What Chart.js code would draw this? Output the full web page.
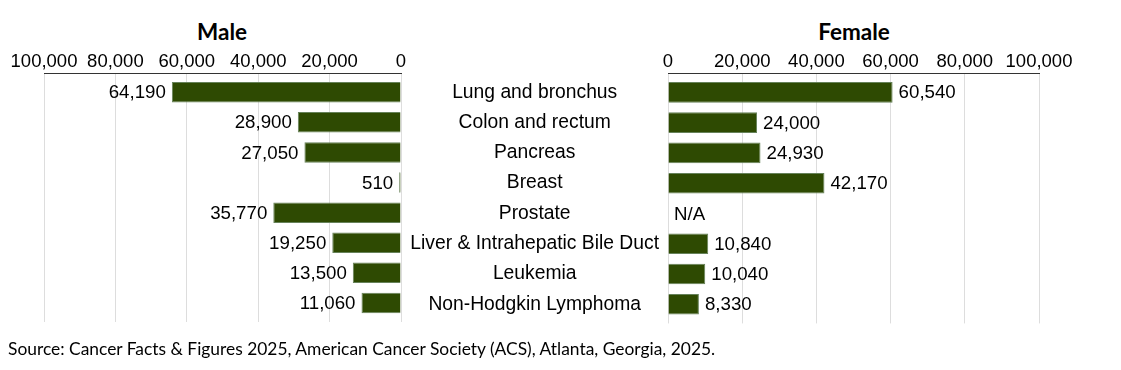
<!DOCTYPE html>
<html>
<head>
<meta charset="utf-8">
<script src="https://cdn.jsdelivr.net/npm/chart.js@4"></script>
<style>
  body { margin: 0; background: #fff; width: 1121px; height: 370px; position: relative; overflow: hidden; }
  .wrap { position: absolute; top: 0; }
  .title { position: absolute; top: 18px; font: bold 22.5px Lato, sans-serif; color: #000; transform: translateX(-50%); }
  #source { position: absolute; left: 8px; top: 338px; font: 17.4px Lato, sans-serif; color: #000; white-space: nowrap; }
</style>
</head>
<body>
<div class="title" style="left:222px">Male</div>
<div class="title" style="left:854px">Female</div>
<div class="wrap" style="left:0; width:440px; height:326px"><canvas id="maleChart"></canvas></div>
<div class="wrap" style="left:401px; width:720px; height:344px"><canvas id="femaleChart"></canvas></div>
<div id="source">Source: Cancer Facts &amp; Figures 2025, American Cancer Society (ACS), Atlanta, Georgia, 2025.</div>
<script>
const sites = ['Lung and bronchus', 'Colon and rectum', 'Pancreas', 'Breast', 'Prostate',
  'Liver & Intrahepatic Bile Duct', 'Leukemia', 'Non-Hodgkin Lymphoma'];
const maleDeaths = [64190, 28900, 27050, 510, 35770, 19250, 13500, 11060];
const femaleDeaths = [60540, 24000, 24930, 42170, null, 10840, 10040, 8330];
const axisMax = 100000;
const axisStep = 20000;

const barFill = '#2e4a02';
const barEdge = '#66825a';
const tickFont = { family: 'Liberation Sans', size: 18.5 };
const nameFont = { family: 'Liberation Sans', size: 19.3 };

// rows sit a little inside the grid lines, top and bottom
const rowInset = {
  id: 'rowInset',
  afterLayout(chart) {
    const s = chart.scales.y;
    s._startPixel += 4;
    s._endPixel -= 4;
    s._length -= 8;
  }
};

// writes the number next to the end of each bar
const valueLabels = {
  id: 'valueLabels',
  afterDatasetsDraw(chart) {
    const ctx = chart.ctx;
    const xScale = chart.scales.x;
    const reversed = xScale.options.reverse;
    const meta = chart.getDatasetMeta(0);
    const values = chart.data.datasets[0].data;
    ctx.save();
    ctx.font = '18.7px "Liberation Sans"';
    ctx.fillStyle = '#000';
    ctx.textBaseline = 'middle';
    meta.data.forEach(function (bar, i) {
      let v = values[i];
      let text = v === null ? 'N/A' : v.toLocaleString('en-US');
      let end = v === null ? xScale.getPixelForValue(0) : bar.x;
      if (reversed) {
        ctx.textAlign = 'right';
        ctx.fillText(text, end - 6, bar.y + 1);
      } else {
        ctx.textAlign = 'left';
        ctx.fillText(text, end + 6, bar.y + 1);
      }
    });
    ctx.restore();
  }
};

function makeChart(id, values, reversed, showNames) {
  let ctx = document.getElementById(id).getContext('2d');
  return new Chart(ctx, {
    type: 'bar',
    data: {
      labels: sites,
      datasets: [{
        data: values,
        backgroundColor: barFill,
        borderColor: barEdge,
        borderWidth: 1,
        barPercentage: 0.68,
        categoryPercentage: 1
      }]
    },
    options: {
      indexAxis: 'y',
      responsive: true,
      maintainAspectRatio: false,
      animation: false,
      layout: {
        padding: reversed ? { top: 51, left: 44, right: 39, bottom: 4 } : { top: 51, left: 0, right: 82, bottom: 4 }
      },
      plugins: {
        legend: { display: false },
        tooltip: { enabled: false }
      },
      scales: {
        x: {
          position: 'top',
          reverse: reversed,
          min: 0,
          max: axisMax,
          ticks: {
            stepSize: axisStep,
            font: tickFont,
            color: '#000',
            padding: 0,
            maxRotation: 0,
            autoSkip: false,
            callback: function (value) { return value.toLocaleString('en-US'); }
          },
          grid: { color: '#dddddd', drawTicks: false },
          border: { color: '#333333', width: 1 }
        },
        y: {
          display: showNames,
          grid: { display: false, drawTicks: false },
          border: { display: false },
          ticks: {
            font: nameFont,
            color: '#000',
            crossAlign: 'center',
            padding: 9
          },
          afterFit: function (scale) {
            if (showNames) scale.width = 267;
          }
        }
      }
    },
    plugins: [rowInset, valueLabels]
  });
}

makeChart('maleChart', maleDeaths, true, false);
makeChart('femaleChart', femaleDeaths, false, true);
</script>
</body>
</html>
